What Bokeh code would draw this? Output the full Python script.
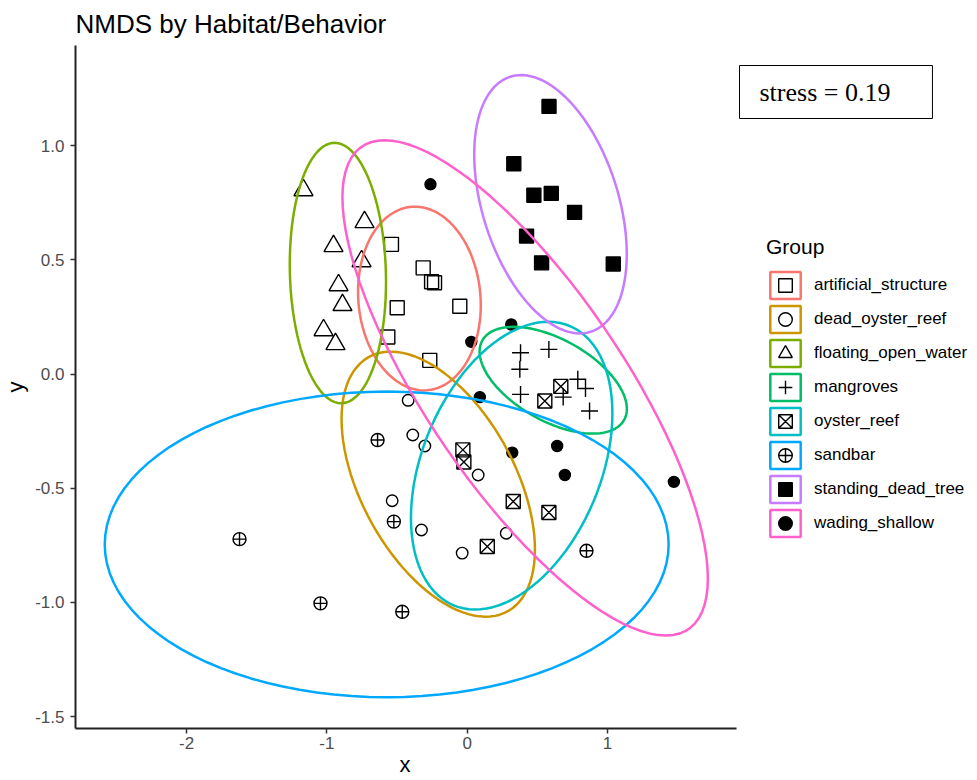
import numpy as np
from bokeh.plotting import figure
from bokeh.models import Range1d, FixedTicker, PrintfTickFormatter, Legend, LegendItem, Label, Title
from bokeh.embed import file_html
from bokeh.resources import INLINE

# ---------------- data ----------------
groups = ["artificial_structure", "dead_oyster_reef", "floating_open_water", "mangroves",
          "oyster_reef", "sandbar", "standing_dead_tree", "wading_shallow"]

artificial_structure_x = [-0.540, -0.314, -0.254, -0.233, -0.499, -0.053, -0.566, -0.267]
artificial_structure_y = [0.568, 0.465, 0.404, 0.400, 0.290, 0.297, 0.162, 0.060]

dead_oyster_reef_x = [-0.421, -0.388, -0.302, 0.078, -0.535, -0.326, 0.278, -0.036]
dead_oyster_reef_y = [-0.115, -0.267, -0.315, -0.442, -0.555, -0.683, -0.697, -0.784]

floating_open_water_x = [-1.167, -0.732, -0.953, -0.753, -0.917, -0.889, -1.024, -0.939]
floating_open_water_y = [0.805, 0.665, 0.560, 0.494, 0.389, 0.302, 0.192, 0.131]

mangroves_x = [0.380, 0.582, 0.375, 0.380, 0.788, 0.843, 0.684, 0.872]
mangroves_y = [0.093, 0.108, 0.021, -0.089, -0.023, -0.063, -0.101, -0.162]

oyster_reef_x = [0.667, 0.553, -0.031, -0.024, 0.328, 0.582, 0.143]
oyster_reef_y = [-0.054, -0.118, -0.332, -0.385, -0.558, -0.606, -0.755]

sandbar_x = [-0.639, -0.523, -0.463, 0.850, -1.623, -1.046]
sandbar_y = [-0.289, -0.646, -1.041, -0.774, -0.723, -1.004]

standing_dead_tree_x = [0.583, 0.332, 0.475, 0.599, 0.765, 0.423, 0.530, 1.041]
standing_dead_tree_y = [1.172, 0.921, 0.783, 0.791, 0.708, 0.604, 0.487, 0.482]

wading_shallow_x = [-0.262, 0.029, 0.314, 0.090, 0.321, 0.641, 0.696, 1.473]
wading_shallow_y = [0.831, 0.141, 0.217, -0.101, -0.344, -0.315, -0.442, -0.472]

x_ticks = [-2, -1, 0, 1]
y_ticks = [-1.5, -1.0, -0.5, 0.0, 0.5, 1.0]
stress_text = "stress = 0.19"
conf_level = 0.95

data = {
    "artificial_structure": (artificial_structure_x, artificial_structure_y),
    "dead_oyster_reef": (dead_oyster_reef_x, dead_oyster_reef_y),
    "floating_open_water": (floating_open_water_x, floating_open_water_y),
    "mangroves": (mangroves_x, mangroves_y),
    "oyster_reef": (oyster_reef_x, oyster_reef_y),
    "sandbar": (sandbar_x, sandbar_y),
    "standing_dead_tree": (standing_dead_tree_x, standing_dead_tree_y),
    "wading_shallow": (wading_shallow_x, wading_shallow_y),
}

# ---------------- styles ----------------
colors = ["#F8766D", "#CD9600", "#7CAE00", "#00BE67", "#00BFC4", "#00A9FF", "#C77CFF", "#FF61CC"]
markers = {
    "artificial_structure": ("square", 14, False),
    "dead_oyster_reef": ("circle", 11.5, False),
    "floating_open_water": ("triangle", 19, False),
    "mangroves": ("cross", 17, False),
    "oyster_reef": ("square_x", 14, False),
    "sandbar": ("circle_cross", 13, False),
    "standing_dead_tree": ("square", 14, True),
    "wading_shallow": ("circle", 11, True),
}
FONT = "Liberation Sans"


# ---------------- covariance ellipse (ordiellipse kind="sd", conf=0.95) ----------------
def cov_ellipse(xs, ys, conf=0.95, npoints=100):
    X = np.column_stack([xs, ys]).astype(float)
    center = X.mean(axis=0)
    cov = np.cov(X, rowvar=False, ddof=1)
    scale = np.sqrt(-2.0 * np.log(1.0 - conf))  # sqrt(qchisq(conf, 2))
    L = np.linalg.cholesky(cov)
    theta = np.arange(npoints + 1) * 2 * np.pi / npoints
    circ = np.column_stack([np.cos(theta), np.sin(theta)])
    pts = center + scale * (circ @ L.T)
    return pts[:, 0], pts[:, 1]


# ---------------- figure ----------------
x_lo, x_hi = -2.792, 1.919
p = figure(width=977, height=780, output_backend="svg", toolbar_location=None,
           x_range=Range1d(x_lo, 3.637), y_range=Range1d(-1.552, 1.4386),
           min_border_left=75, min_border_right=0, min_border_top=44, min_border_bottom=52)
p.xgrid.visible = False
p.ygrid.visible = False
p.outline_line_color = None
p.background_fill_color = "white"
p.border_fill_color = "white"

p.title.text = "NMDS by Habitat/Behavior"
p.title.text_font = FONT
p.title.text_font_size = "26px"
p.title.text_font_style = "normal"
p.title.text_color = "black"
p.title.align = "left"
p.title.offset = 0
p.title.standoff = 13

for ax in (p.xaxis[0], p.yaxis[0]):
    ax.axis_line_color = "#222222"
    ax.axis_line_width = 2
    ax.major_tick_line_color = "#333333"
    ax.major_tick_line_width = 1.5
    ax.major_tick_out = 5
    ax.major_tick_in = 0
    ax.minor_tick_line_color = None
    ax.major_label_text_font = FONT
    ax.major_label_text_font_size = "17px"
    ax.major_label_text_color = "#4D4D4D"
    ax.axis_label_text_font = FONT
    ax.axis_label_text_font_size = "22px"
    ax.axis_label_text_font_style = "normal"
    ax.axis_label_text_color = "black"

p.xaxis[0].bounds = (x_lo, x_hi)
p.xaxis[0].ticker = FixedTicker(ticks=x_ticks)
p.xaxis[0].formatter = PrintfTickFormatter(format="%d")
p.xaxis[0].major_label_standoff = 3

p.yaxis[0].ticker = FixedTicker(ticks=y_ticks)
p.yaxis[0].formatter = PrintfTickFormatter(format="%.1f")
p.yaxis[0].major_label_standoff = 6
p.yaxis[0].axis_label = "y"
p.yaxis[0].axis_label_standoff = 4

# x-axis title, centred under the axis line (which ends at x_hi)
p.add_layout(Title(text="x", align="left", offset=324, standoff=0, vertical_align="top",
                   text_font=FONT, text_font_size="22px", text_font_style="normal",
                   text_color="black"), "below")

# points first
scatter_r = {}
for g in groups:
    xs, ys = data[g]
    m, s, filled = markers[g]
    scatter_r[g] = p.scatter(xs, ys, marker=m, size=s, line_color="black", line_width=1.4,
                             fill_color="black" if filled else None)

# ellipses above
patch_r = {}
for g, c in zip(groups, colors):
    xs, ys = data[g]
    ex, ey = cov_ellipse(xs, ys, conf=conf_level)
    patch_r[g] = p.patch(ex, ey, fill_color=None, line_color=c, line_width=2.5)

items = [LegendItem(label=g, renderers=[patch_r[g], scatter_r[g]]) for g in groups]
legend = Legend(items=items, location=(691, 188), title="Group",
                title_text_font=FONT, title_text_font_size="21px", title_text_font_style="normal",
                title_text_color="black", title_standoff=9,
                label_text_font=FONT, label_text_font_size="17px", label_text_color="black",
                glyph_width=38, glyph_height=34, label_height=34, spacing=0, padding=0, margin=0,
                label_standoff=10, border_line_color=None, background_fill_alpha=0)
p.add_layout(legend)

p.add_layout(Label(x=664, y=636.5, x_units="screen", y_units="screen", text=stress_text,
                   text_font="Liberation Serif", text_font_size="26px", text_color="black",
                   text_align="left", text_baseline="middle",
                   border_line_color="black", border_line_width=1,
                   background_fill_color="white",
                   padding=dict(left=20, right=42, top=12, bottom=12)))

open("out.html", "w").write(file_html(p, INLINE))
